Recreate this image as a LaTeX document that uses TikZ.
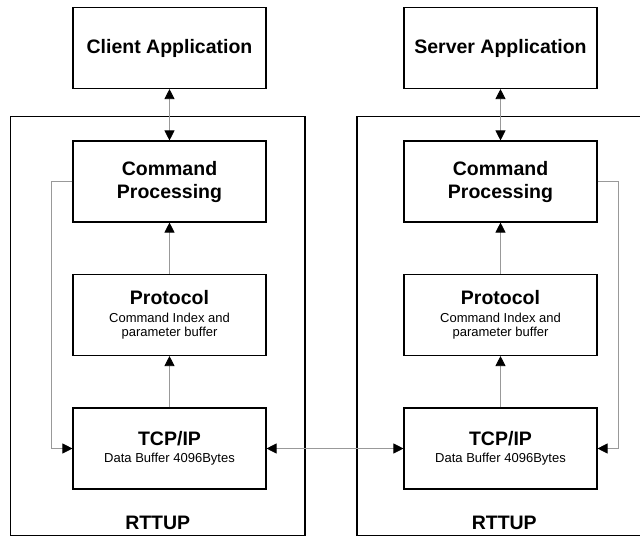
\documentclass[tikz,border=0pt]{standalone}
\usepackage{fontspec}
\setmainfont{Liberation Sans}
\usepackage{tikz}
\usetikzlibrary{arrows.meta}
\newcommand{\boxnote}{\mdseries\fontsize{13}{15}\selectfont}
\tikzstyle{box} = [rectangle, minimum width=193pt, minimum height=81pt, text centered, align=center, draw=black, line width=1.1pt, font=\fontsize{19.5}{23}\selectfont\bfseries]
\tikzstyle{frame} = [rectangle, minimum width=294.5pt, minimum height=419pt, draw=black, line width=1.1pt]
\tikzstyle{tag} = [font=\fontsize{19.5}{23}\selectfont\bfseries, anchor=base]
\tikzstyle{arrow} = [line width=0.8pt, draw=black!40, >={Triangle[black, length=10pt, width=10pt]}]

\begin{document}
\begin{tikzpicture}[x=1pt, y=-1pt, node distance=133.5pt]
          \clip (0,0) rectangle (640,536);
          \node (rttL) [frame] at (157.75,326) {};
          \node (rttR) [frame] at (504.25,326) {};
          \node (labL) [tag] at ([yshift=6.5pt]rttL.south) {RTTUP};
          \node (labR) [tag] at ([yshift=6.5pt]rttR.south) {RTTUP};
          \node (cliL) [box] at (169.5,48) {Client Application};
          \node (cmdL) [box, below of=cliL] {Command\\Processing};
          \node (proL) [box, below of=cmdL] {Protocol\\[-5pt]\boxnote Command Index and\\[-8.5pt]\boxnote parameter buffer};
          \node (tcpL) [box, below of=proL] {TCP/IP\\[-6pt]\boxnote Data Buffer 4096Bytes};
          \node (cliR) [box, right of=cliL, xshift=197.5pt] {Server Application};
          \node (cmdR) [box, below of=cliR] {Command\\Processing};
          \node (proR) [box, below of=cmdR] {Protocol\\[-5pt]\boxnote Command Index and\\[-8.5pt]\boxnote parameter buffer};
          \node (tcpR) [box, below of=proR] {TCP/IP\\[-6pt]\boxnote Data Buffer 4096Bytes};
          \draw [arrow, <->] (cliL) -- (cmdL);
          \draw [arrow, ->] (proL) -- (cmdL);
          \draw [arrow, ->] (tcpL) -- (proL);
          \draw [arrow, ->] (cmdL.west) -- ++(-21,0) |- (tcpL.west);
          \draw [arrow, <->] (cliR) -- (cmdR);
          \draw [arrow, ->] (proR) -- (cmdR);
          \draw [arrow, ->] (tcpR) -- (proR);
          \draw [arrow, ->] (cmdR.east) -- ++(21,0) |- (tcpR.east);
          \draw [arrow, <->] (tcpL) -- (tcpR);
        \end{tikzpicture}
\end{document}
